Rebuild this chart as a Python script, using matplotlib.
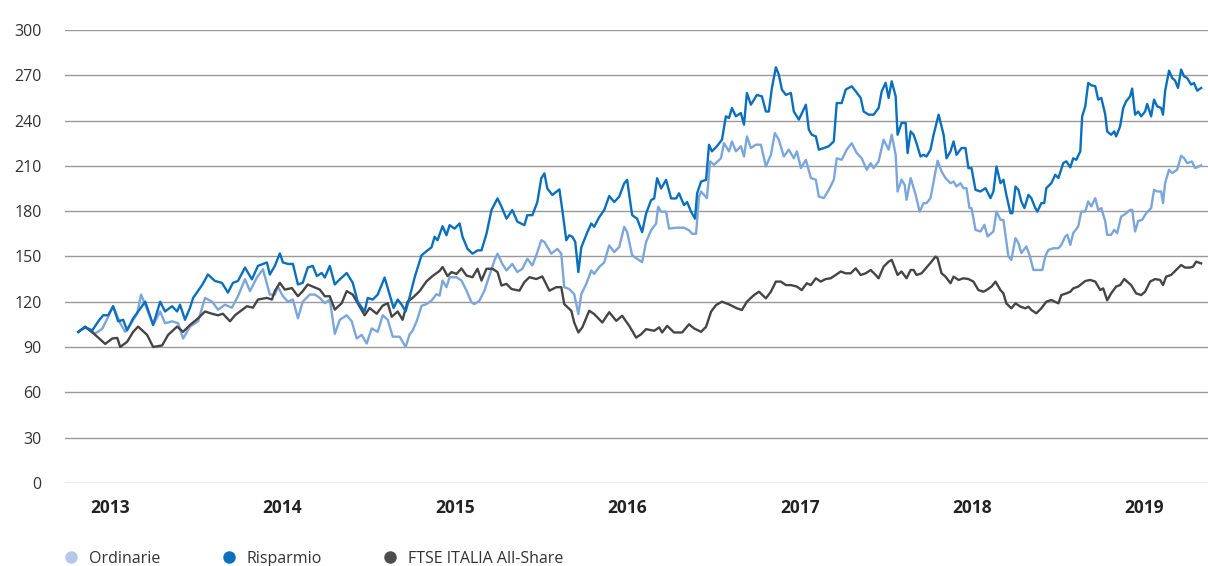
import matplotlib
matplotlib.use("Agg")
import matplotlib.pyplot as plt
import numpy as np
from matplotlib.lines import Line2D

plt.rcParams["font.family"] = ["Open Sans", "DejaVu Sans"]

# dates as years after 1 Jan 2013, values indexed to 100
risp_t = [-0.185, -0.145, -0.104, -0.069, -0.041, -0.012, 0.017, 0.046, 0.075, 0.098, 0.133, 0.162, 0.203, 0.249,
          0.290, 0.318, 0.359, 0.388, 0.405, 0.434, 0.463, 0.481, 0.533, 0.567, 0.608, 0.648, 0.683, 0.712, 0.741,
          0.782, 0.822, 0.857, 0.909, 0.926, 0.955, 0.984, 1.002, 1.031, 1.060, 1.089, 1.117, 1.146, 1.175, 1.199,
          1.227, 1.245, 1.274, 1.303, 1.332, 1.372, 1.407, 1.436, 1.476, 1.494, 1.523, 1.552, 1.592, 1.621, 1.644,
          1.668, 1.691, 1.714, 1.737, 1.766, 1.806, 1.841, 1.864, 1.882, 1.899, 1.928, 1.951, 1.969, 1.998, 2.027,
          2.044, 2.073, 2.102, 2.131, 2.154, 2.183, 2.212, 2.247, 2.270, 2.299, 2.333, 2.362, 2.403, 2.420, 2.449,
          2.478, 2.501, 2.519, 2.536, 2.565, 2.606, 2.623, 2.646, 2.663, 2.681, 2.698, 2.716, 2.733, 2.768, 2.791,
          2.808, 2.837, 2.866, 2.895, 2.924, 2.953, 2.982, 2.999, 3.028, 3.057, 3.086, 3.109, 3.138, 3.156, 3.173,
          3.196, 3.225, 3.254, 3.283, 3.300, 3.329, 3.347, 3.370, 3.393, 3.405, 3.428, 3.457, 3.474, 3.491, 3.520,
          3.549, 3.572, 3.590, 3.607, 3.630, 3.659, 3.677, 3.694, 3.717, 3.752, 3.781, 3.804, 3.821, 3.839, 3.862,
          3.879, 3.897, 3.920, 3.949, 3.966, 3.995, 4.036, 4.053, 4.070, 4.094, 4.111, 4.140, 4.169, 4.198, 4.215,
          4.244, 4.267, 4.302, 4.325, 4.354, 4.371, 4.400, 4.429, 4.458, 4.476, 4.499, 4.516, 4.534, 4.557, 4.568,
          4.591, 4.615, 4.626, 4.644, 4.661, 4.678, 4.701, 4.719, 4.736, 4.759, 4.777, 4.806, 4.835, 4.852, 4.875,
          4.893, 4.910, 4.939, 4.962, 4.979, 4.997, 5.020, 5.049, 5.078, 5.107, 5.124, 5.142, 5.165, 5.182, 5.199,
          5.223, 5.234, 5.252, 5.269, 5.286, 5.304, 5.327, 5.344, 5.367, 5.379, 5.402, 5.419, 5.431, 5.460, 5.483,
          5.501, 5.529, 5.547, 5.570, 5.587, 5.605, 5.628, 5.639, 5.657, 5.674, 5.692, 5.715, 5.732, 5.750, 5.773,
          5.784, 5.807, 5.825, 5.836, 5.859, 5.877, 5.894, 5.917, 5.929, 5.946, 5.964, 5.981, 6.004, 6.016, 6.039,
          6.056, 6.074, 6.097, 6.108, 6.120, 6.143, 6.161, 6.178, 6.195, 6.213, 6.230, 6.248, 6.271, 6.288, 6.306,
          6.329]
risp_v = [100, 103, 101, 107, 111, 111, 117, 107, 108, 101, 109, 113.5, 120, 104.6,
          120, 113.5, 117, 113.5, 118, 108, 116, 122.5, 131, 138, 133.7, 132.5, 126, 132.5, 133.7,
          142.6, 134.8, 143.7, 146, 138, 143.7, 152, 146, 145, 145, 131.4, 132.5, 142.6, 143.7, 137,
          139, 136, 143.7, 131.4, 134.8, 139, 132.5, 120, 113.5, 122.5, 121.4, 124.7, 136, 124.7, 115.8,
          121.4, 118, 113.5, 123, 136, 150.7, 154, 156, 163, 160.7, 170, 164, 170.7, 168.4, 171.8,
          163, 155, 151.8, 154, 154, 165, 180.7, 188.4, 183, 175, 180.7, 173, 170.7, 177.3, 177.3,
          186, 201.8, 205, 195, 190.7, 194.4, 180.7, 160.7, 164, 163, 159.6, 139.6, 156, 166, 171.8,
          169.6, 176, 180.7, 190, 186, 189.6, 198.4, 200.7, 177.3, 175, 166, 178.4, 187.3, 188.4, 201.8,
          195, 200.7, 188.4, 188.4, 191.8, 184, 186, 179.6, 175, 191.8, 199.6, 200.7, 224, 219.6, 223,
          227.3, 242.8, 241.7, 248.3, 242.8, 245, 237.3, 258.3, 250.5, 257, 256, 246, 246, 261.6, 275.3,
          270.4, 260.5, 257, 258.3, 246, 240.6, 250.5, 234, 230.6, 229.5, 220.7, 221.8, 223, 226.2, 251.6,
          251.6, 260.5, 262.7, 259.4, 255, 246, 243.9, 243.9, 248.3, 259.4, 265, 255, 266, 256, 230.6,
          238.4, 238.4, 218.5, 232.8, 230.6, 225, 216.2, 217.3, 216.2, 220.7, 230.6, 243.9, 230.6, 215, 219.6,
          226.2, 217.3, 221.8, 221.8, 208.5, 208.5, 194.1, 193, 195.2, 188.6, 193, 209.6, 198.5, 200.8, 190.8,
          178.6, 178.6, 196.3, 194.1, 186.4, 182, 190.8, 188.6, 182, 179.7, 185.3, 185.3, 195.2, 198.5, 204.1,
          201.9, 211.8, 213, 209, 215, 214, 219.6, 242.8, 249.4, 264.9, 263.4, 262.7, 253.9, 255, 243.9,
          232.8, 230.6, 232.8, 229.5, 236.1, 248.3, 252.7, 256, 261.2, 243.9, 246, 242.8, 246, 251, 242.8,
          253.9, 249.4, 248.3, 243.9, 259.4, 273.1, 268.2, 266.5, 261.6, 273.8, 269.3, 268.2, 263.8, 264.9, 259.8,
          261.6]

ord_t = [-0.185, -0.145, -0.087, -0.046, -0.012, 0.017, 0.058, 0.087, 0.116, 0.156, 0.179, 0.203, 0.249, 0.290,
         0.318, 0.359, 0.394, 0.423, 0.463, 0.510, 0.550, 0.591, 0.625, 0.666, 0.706, 0.741, 0.782, 0.811, 0.851,
         0.886, 0.926, 0.955, 0.973, 1.002, 1.031, 1.060, 1.089, 1.117, 1.158, 1.187, 1.216, 1.245, 1.274, 1.303,
         1.332, 1.372, 1.401, 1.430, 1.459, 1.488, 1.517, 1.552, 1.581, 1.610, 1.639, 1.679, 1.714, 1.737, 1.754,
         1.778, 1.806, 1.835, 1.864, 1.893, 1.911, 1.928, 1.951, 1.969, 2.009, 2.038, 2.067, 2.096, 2.113, 2.142,
         2.171, 2.200, 2.229, 2.247, 2.275, 2.299, 2.333, 2.362, 2.391, 2.420, 2.449, 2.472, 2.501, 2.519, 2.559,
         2.594, 2.617, 2.634, 2.663, 2.692, 2.716, 2.733, 2.762, 2.791, 2.808, 2.837, 2.866, 2.895, 2.924, 2.953,
         2.982, 2.999, 3.028, 3.057, 3.086, 3.109, 3.138, 3.167, 3.179, 3.196, 3.225, 3.242, 3.283, 3.329, 3.358,
         3.376, 3.399, 3.416, 3.428, 3.462, 3.480, 3.503, 3.543, 3.561, 3.590, 3.607, 3.630, 3.659, 3.677, 3.694,
         3.717, 3.746, 3.775, 3.804, 3.833, 3.856, 3.879, 3.908, 3.937, 3.966, 3.984, 4.007, 4.036, 4.065, 4.094,
         4.111, 4.140, 4.169, 4.198, 4.215, 4.244, 4.273, 4.302, 4.331, 4.360, 4.389, 4.412, 4.429, 4.458, 4.487,
         4.516, 4.534, 4.557, 4.568, 4.591, 4.609, 4.620, 4.644, 4.673, 4.696, 4.719, 4.736, 4.759, 4.777, 4.800,
         4.823, 4.846, 4.875, 4.893, 4.910, 4.933, 4.950, 4.968, 4.985, 4.997, 5.020, 5.049, 5.072, 5.090, 5.124,
         5.142, 5.165, 5.182, 5.211, 5.228, 5.252, 5.269, 5.286, 5.315, 5.333, 5.356, 5.385, 5.408, 5.425, 5.443,
         5.472, 5.501, 5.518, 5.541, 5.553, 5.570, 5.587, 5.616, 5.634, 5.657, 5.674, 5.692, 5.715, 5.732, 5.750,
         5.773, 5.784, 5.807, 5.825, 5.842, 5.865, 5.888, 5.917, 5.929, 5.946, 5.964, 5.987, 6.010, 6.039, 6.056,
         6.074, 6.097, 6.108, 6.120, 6.143, 6.161, 6.190, 6.213, 6.230, 6.248, 6.276, 6.294, 6.329]
ord_v = [100, 103, 99, 102, 110, 117, 105.7, 100, 104.6, 112, 124.7, 118, 104.6, 113.5,
         105.7, 107, 105.7, 95.6, 103.5, 107, 122.5, 120, 114.7, 118, 116, 123.6, 134.8, 127, 136,
         141.5, 124.7, 124.7, 130, 123.6, 120, 121.4, 109, 120, 124.7, 124.7, 122.5, 119, 121.4, 98.7,
         108, 111, 107, 95.6, 98, 92.3, 102.3, 100, 111, 108, 96.8, 96.8, 90, 98.4, 100.7,
         107, 117.3, 118.4, 120.7, 125, 124, 134, 129.6, 136.2, 136.2, 134, 127.3, 119.6, 118.4, 120.7,
         127.3, 137.3, 147.3, 151.8, 145, 140.7, 145, 139.6, 141.8, 148.4, 144, 150.7, 160.7, 159.6, 151.8,
         155, 151.8, 129.6, 128.4, 125, 111.8, 125, 131.8, 140.7, 138.4, 143, 146, 157.3, 152.9, 156.2,
         169.6, 166.2, 150.7, 148.4, 146.2, 159.6, 167.3, 171.8, 182.9, 179.6, 179.6, 168.4, 169, 169, 167.3,
         165, 165, 189.6, 193, 188.6, 213, 210.7, 215, 225, 219.6, 226.2, 219.6, 223, 216.2, 229.5,
         221.8, 224, 224, 209.6, 217.3, 231.7, 227.3, 216.2, 220.7, 215, 219.6, 208.5, 214, 201.9, 200.8,
         189.7, 188.6, 194.1, 200.8, 215, 214, 220.7, 225, 218.5, 215, 207.4, 211.8, 208.5, 213, 227.3,
         220.7, 230.6, 217.3, 193, 200.8, 197.4, 187.5, 201.9, 190.8, 179.7, 185.3, 185.3, 188.6, 199.6, 213.4,
         206.3, 201.9, 198.5, 199.6, 196.3, 198.5, 195.2, 195.2, 182, 182, 167.6, 166.5, 170.9, 163.2, 166.5,
         179.7, 174.2, 174.2, 150, 147.7, 162.1, 158.8, 152.2, 156.6, 151.1, 141, 141, 141, 150, 154.3,
         155.4, 155.4, 157.6, 163.2, 164.3, 157.6, 165.4, 169.8, 179.7, 179.7, 186.4, 183.1, 188.6, 180.8, 182,
         173.1, 164.3, 164.3, 167.6, 165.4, 176.4, 178, 180.8, 180.8, 166.5, 173.5, 174.2, 178.6, 182, 194.1,
         193, 193, 185.3, 198.5, 207.4, 205.2, 207.4, 216.7, 215.1, 211.8, 212.9, 208.5, 210.3]

ftse_t = [-0.185, -0.145, -0.087, -0.029, 0.012, 0.041, 0.058, 0.098, 0.133, 0.162, 0.214, 0.249, 0.301, 0.336,
          0.388, 0.423, 0.463, 0.510, 0.550, 0.591, 0.625, 0.654, 0.695, 0.724, 0.793, 0.828, 0.857, 0.909, 0.938,
          0.955, 0.984, 1.013, 1.054, 1.089, 1.117, 1.146, 1.175, 1.216, 1.245, 1.274, 1.303, 1.343, 1.372, 1.407,
          1.436, 1.476, 1.505, 1.546, 1.581, 1.610, 1.633, 1.668, 1.696, 1.725, 1.754, 1.795, 1.835, 1.870, 1.911,
          1.928, 1.957, 1.980, 2.009, 2.038, 2.067, 2.102, 2.131, 2.154, 2.183, 2.218, 2.247, 2.270, 2.299, 2.328,
          2.374, 2.403, 2.432, 2.472, 2.507, 2.548, 2.588, 2.617, 2.634, 2.675, 2.692, 2.716, 2.739, 2.779, 2.808,
          2.837, 2.855, 2.895, 2.936, 2.970, 3.011, 3.051, 3.080, 3.109, 3.156, 3.185, 3.202, 3.231, 3.271, 3.318,
          3.358, 3.387, 3.428, 3.457, 3.486, 3.515, 3.549, 3.590, 3.636, 3.665, 3.694, 3.735, 3.764, 3.804, 3.833,
          3.862, 3.891, 3.920, 3.949, 3.984, 4.012, 4.041, 4.065, 4.094, 4.122, 4.151, 4.180, 4.209, 4.238, 4.267,
          4.296, 4.325, 4.354, 4.383, 4.412, 4.441, 4.458, 4.487, 4.516, 4.534, 4.568, 4.591, 4.620, 4.644, 4.661,
          4.678, 4.707, 4.748, 4.765, 4.788, 4.800, 4.823, 4.846, 4.875, 4.893, 4.922, 4.950, 4.979, 5.008, 5.037,
          5.066, 5.084, 5.113, 5.136, 5.165, 5.182, 5.199, 5.228, 5.252, 5.281, 5.309, 5.327, 5.344, 5.373, 5.402,
          5.431, 5.460, 5.501, 5.518, 5.547, 5.570, 5.587, 5.616, 5.657, 5.686, 5.715, 5.744, 5.761, 5.784, 5.807,
          5.836, 5.859, 5.883, 5.900, 5.923, 5.952, 5.981, 6.004, 6.033, 6.062, 6.091, 6.108, 6.126, 6.155, 6.184,
          6.213, 6.236, 6.265, 6.282, 6.300, 6.329]
ftse_v = [100, 103.5, 98, 92, 95.6, 96, 90, 93.4, 100, 103.5, 98, 90, 91, 98,
          103.5, 100, 104.6, 109, 113.5, 112, 111, 112, 107, 111, 117, 116, 121.4, 122.5, 121.4,
          127, 132.5, 128, 129, 123.6, 127, 131.4, 130, 128, 123.6, 123.6, 114.7, 119, 127, 124.7,
          119, 111, 115.8, 112, 117.4, 119, 110, 113.5, 108, 120, 122.5, 127, 133.5, 137, 140.4,
          143, 137, 139.6, 138.4, 142, 137.3, 136.2, 141.8, 134, 141.8, 141.8, 139.6, 130.7, 131.8, 128.4,
          127.3, 133, 136.2, 135, 136.7, 127.3, 129.6, 129.6, 118.4, 114, 106.2, 99.6, 103, 114, 111.8,
          108.4, 106.2, 113, 107.3, 110.7, 104, 96.2, 98.4, 101.8, 100.7, 103, 99.6, 104, 99.6, 99.6,
          105, 102.3, 100, 103.4, 113.4, 117.8, 120, 118.2, 115.6, 114.5, 120, 124.4, 126.6, 122.2, 126.6,
          133.3, 133.3, 131, 131, 130, 127.7, 132.2, 131, 135.5, 133.3, 135, 135.5, 137.7, 140, 138.8,
          138.8, 142.1, 137.7, 138.8, 141, 137.7, 135.5, 143.2, 146.5, 147.7, 137.7, 140, 135.5, 141, 141,
          137.7, 138.8, 144.3, 146.5, 149.9, 148.8, 138.8, 136.6, 132.2, 136.6, 134.4, 135.5, 135, 133.3, 127.7,
          126.6, 127.7, 130, 133.3, 127.7, 125.5, 118.9, 115.6, 118.9, 116.7, 115.6, 116.7, 114.5, 112.3, 115.6,
          120, 121.1, 118.9, 124.4, 125.5, 126.6, 128.8, 130, 133.7, 134.4, 133.3, 127.7, 128.8, 120.9, 125.5,
          130, 131, 135, 133.3, 131, 125.5, 124.4, 126.6, 133.3, 135, 134.4, 131, 136.6, 137.7, 141,
          144.3, 142.6, 142.6, 143.2, 146.5, 145.4]

years = [2013, 2014, 2015, 2016, 2017, 2018, 2019]
y_ticks = [0, 30, 60, 90, 120, 150, 180, 210, 240, 270, 300]

fig = plt.figure(figsize=(12.08, 5.66), dpi=100)
ax = fig.add_axes([0.054, 0.147, 0.946, 0.800])

ax.plot(2013 + np.array(ord_t), ord_v, color="#7ba6dc", lw=1.7, zorder=3)
ax.plot(2013 + np.array(ftse_t), ftse_v, color="#454545", lw=1.7, zorder=3)
ax.plot(2013 + np.array(risp_t), risp_v, color="#0a6fbd", lw=1.7, zorder=4)

ax.set_xlim(2012.739, 2019.369)
ax.set_ylim(0, 300)
ax.set_yticks(y_ticks)
ax.set_xticks(years)
ax.set_xticklabels([str(y) for y in years], fontweight="bold", fontsize=12.5, color="#222222")
ax.tick_params(axis="y", length=0, pad=17, labelsize=11.5, labelcolor="#333333")
ax.tick_params(axis="x", length=0, pad=12)
ax.grid(axis="y", color="#999999", lw=1)
ax.set_axisbelow(True)
for s in ax.spines.values():
    s.set_visible(False)

handles = [Line2D([], [], ls="none", marker="o", ms=9, mec="none", mfc=c)
           for c in ["#b4c9ea", "#0a6fbd", "#4d4d4d"]]
fig.legend(handles, ["Ordinarie", "Risparmio", "FTSE ITALIA All-Share"], loc="center left",
           bbox_to_anchor=(0.047, 0.013), ncol=3, frameon=False, fontsize=11.5, handletextpad=0.6,
           columnspacing=3.8, labelcolor="#333333", handlelength=1.0, borderaxespad=0)

fig.savefig("out.png", dpi=100)
